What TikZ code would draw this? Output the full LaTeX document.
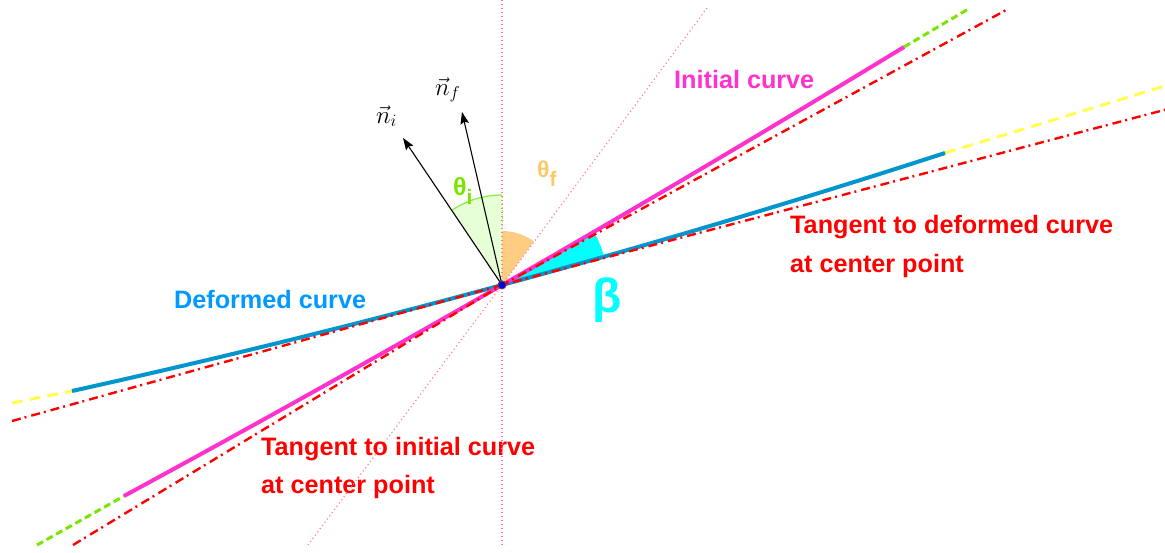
\documentclass[tikz,border=0pt]{standalone}
\usepackage{fontspec}
\setmainfont{Liberation Sans}
\usetikzlibrary{arrows.meta}
\definecolor{magc}{RGB}{255,50,205}
\definecolor{bluec}{RGB}{0,150,205}
\definecolor{bluet}{RGB}{0,153,255}
\definecolor{yelc}{RGB}{255,255,80}
\definecolor{grnc}{RGB}{120,230,0}
\definecolor{dotc}{RGB}{255,120,150}
\definecolor{orgf}{RGB}{255,205,130}
\definecolor{orgt}{RGB}{255,200,100}
\definecolor{grnf}{RGB}{230,255,215}
\definecolor{grna}{RGB}{130,240,60}
\definecolor{cyanc}{RGB}{0,255,255}
\tikzset{
  curveline/.style={line width=4pt},
  tanline/.style={red, line width=2.4pt, dash pattern=on 9pt off 4pt on 2pt off 5pt},
  extyel/.style={yelc, line width=3pt, dash pattern=on 11pt off 7pt},
  extgrn/.style={grnc, line width=3pt, dash pattern=on 7pt off 4pt},
  dotline/.style={dotc, line width=1.1pt, dash pattern=on 1.2pt off 2.8pt},
  vecarrow/.style={black, line width=1.1pt, -{Stealth[length=12pt,width=8.5pt,inset=2pt]}},
  bigtxt/.style={font=\fontsize{25.2}{25.2}\selectfont\bfseries, inner sep=0pt, anchor=base west},
  mathlbl/.style={font=\fontsize{27}{27}\selectfont, inner sep=0pt, anchor=base west}
}
\begin{document}
\begin{tikzpicture}[x=1pt,y=-1pt]
\useasboundingbox (0,0) rectangle (1165,552);
\clip (0,0) rectangle (1165,552);
\coordinate (C) at (502,285);
% wedges
\fill[grnf] (C) -- ++(90:90pt) arc[start angle=90,end angle=124,radius=90pt] -- cycle;
\draw[grna, line width=1.2pt] (C) ++(90:90pt) arc[start angle=90,end angle=124,radius=90pt];
\draw[grna, line width=1pt, dash pattern=on 1.5pt off 2pt] (C) -- ++(90:90pt);
\fill[orgf] (C) -- ++(54:54pt) arc[start angle=54,end angle=90,radius=54pt] -- cycle;
\fill[cyanc] (C) -- ++(16:106pt) arc[start angle=16,end angle=29,radius=106pt] -- cycle;
% labels
\node[bigtxt, text=magc] (lblinit) at (674,88) {Initial curve};
\node[bigtxt, text=bluet] (lbldef) at (174,308) {Deformed curve};
\node[bigtxt, text=red] (lbltd1) at (790,233) {Tangent to deformed curve};
\node[bigtxt, text=red] (lbltd2) at (790,272) {at center point};
\node[bigtxt, text=red] (lblti1) at (261,455) {Tangent to initial curve};
\node[bigtxt, text=red] (lblti2) at (261,493) {at center point};
\node[font=\fontsize{48}{48}\selectfont\bfseries, text=cyanc, inner sep=0pt, anchor=base west] (lblbeta) at (592,312) {β};
\node[font=\fontsize{25}{25}\selectfont\bfseries, text=grnc, inner sep=0pt, anchor=base west] (lblthi) at (453,195) {θ\lower9pt\hbox{\fontsize{21}{21}\selectfont i}};
\node[font=\fontsize{23}{23}\selectfont\bfseries, text=orgt, inner sep=0pt, anchor=base west] (lblthf) at (537,177) {θ\lower9pt\hbox{\fontsize{21}{21}\selectfont f}};
% dotted reference lines
\coordinate (vt) at (502,0);
\coordinate (vb) at (502,546);
\coordinate (dt) at (707,8);
\coordinate (db) at (308,545);
\draw[dotline] (vt) -- (C) -- (vb);
\draw[dotline] (dt) -- (C) -- (db);
% extensions
\coordinate (bl) at (72,391);
\coordinate (br) at (945,153);
\coordinate (ml) at (124,496);
\coordinate (mr) at (904,47);
\coordinate (ylend) at (12,403);
\coordinate (yrend) at (1168,85);
\coordinate (glend) at (37,545);
\coordinate (grend) at (970,8);
\draw[extyel] (ylend) -- (bl);
\draw[extyel] (br) -- (yrend);
\draw[extgrn] (glend) -- (ml);
\draw[extgrn] (mr) -- (grend);
% curves
\draw[curveline, bluec] (bl) .. controls (215.3,359.3) and (358.7,324.0) .. (C)
  .. controls (649.7,244.9) and (797.3,200.9) .. (br);
\draw[curveline, magc] (ml) .. controls (250,427.7) and (376,357.4) .. (C)
  .. controls (636,208.0) and (770,128.7) .. (mr);
% tangents
\coordinate (tdl) at (12,421);
\coordinate (tdr) at (1168,109);
\coordinate (til) at (73,545);
\coordinate (tir) at (1008,9);
\draw[tanline] (tdl) -- (C) -- (tdr);
\draw[tanline] (til) -- (C) -- (tir);
% normals
\coordinate (ni) at (403,138);
\coordinate (nf) at (462,112);
\draw[vecarrow] (C) -- (ni);
\draw[vecarrow] (C) -- (nf);
\node[mathlbl] (lblni) at (376,123) {$\vec{n}_i$};
\node[mathlbl] (lblnf) at (435,95) {$\vec{n}_f$};
% center point
\fill[blue!90!black, draw=black!70, line width=0.8pt] (C) circle (4pt);
\end{tikzpicture}
\end{document}
